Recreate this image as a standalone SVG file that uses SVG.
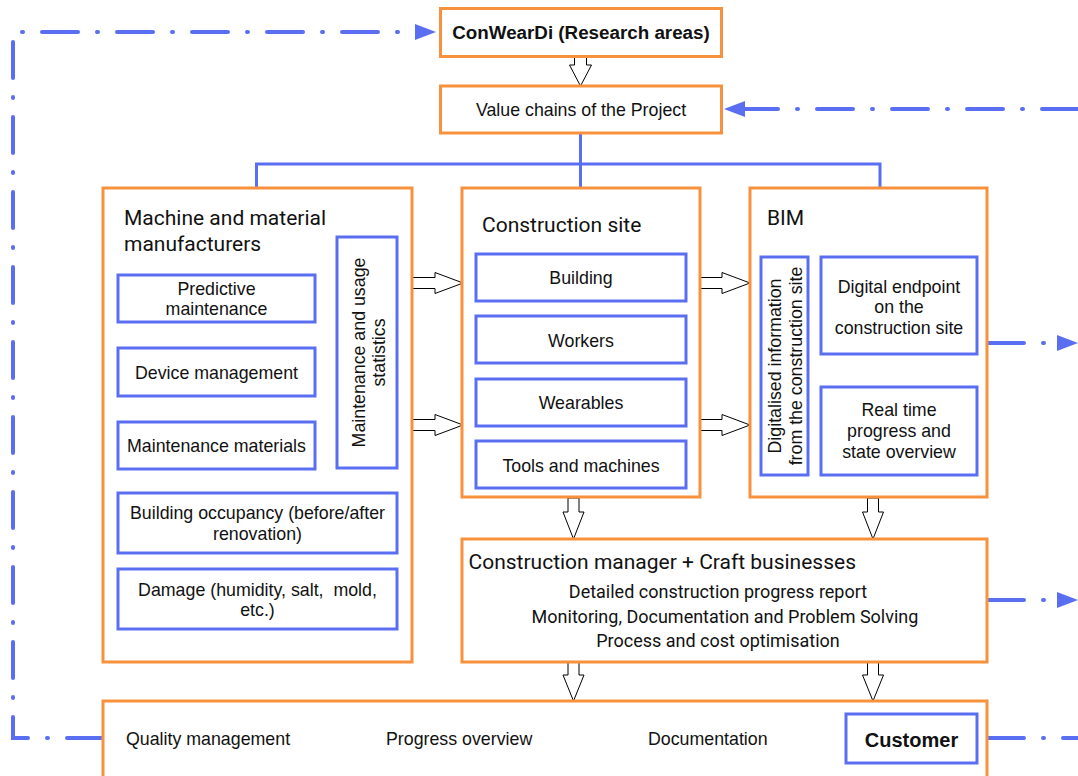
<svg xmlns="http://www.w3.org/2000/svg" width="1078" height="776" viewBox="0 0 1078 776">
<style>
.ob{fill:#fff;stroke:#F7913D;stroke-width:3}
.bb{fill:#fff;stroke:#5A6EF2;stroke-width:3}
.t{font-family:"Liberation Sans",Arial,sans-serif;font-size:17.8px;fill:#111;text-anchor:middle}
.tl{font-family:"Liberation Sans",Arial,sans-serif;font-size:17.8px;fill:#111}
.b{font-weight:bold}
.h{font-family:Roboto,"Liberation Sans",sans-serif;font-size:21px;fill:#111}
.r{font-family:Roboto,"Liberation Sans",sans-serif;font-size:18px;fill:#111;text-anchor:middle}
.tree{fill:none;stroke:#5A6EF2;stroke-width:3}
.dd{fill:none;stroke:#5A6EF2;stroke-width:4;stroke-linecap:round;stroke-dasharray:36 19 1 19}
.ha{fill:#fff;stroke:#000;stroke-width:1}
</style>
<defs>
<marker id="ah" markerUnits="userSpaceOnUse" markerWidth="22" markerHeight="18" viewBox="0 0 22 18" refX="0" refY="9" orient="auto">
<path d="M0,1 L21,9 L0,17 Z" fill="#5A6EF2"/>
</marker>
</defs>

<g id="connectors">
<path class="tree" d="M580.5,133 V188 M256.5,188 V164 H880 V188"/>
<path class="dd" d="M103,738 H13 V32 H415" marker-end="url(#ah)"/>
<path class="dd" d="M1078,109 H745" marker-end="url(#ah)"/>
<path class="dd" d="M988,343 H1057" marker-end="url(#ah)"/>
<path class="dd" d="M988,600 H1057" marker-end="url(#ah)"/>
<path class="dd" d="M988,738 H1078"/>
<path class="ha" d="M574.5,56.5 H586.5 V65 H591.5 L580.5,86 L569.5,65 H574.5 Z"/>
<path class="ha" d="M412,277.5 H435 V272.5 L463,283 L435,293.5 V288.5 H412 Z"/>
<path class="ha" d="M412,419.5 H435 V414.5 L463,425 L435,435.5 V430.5 H412 Z"/>
<path class="ha" d="M700,277.5 H722 V272.5 L750,283 L722,293.5 V288.5 H700 Z"/>
<path class="ha" d="M700,419.5 H722 V414.5 L750,425 L722,435.5 V430.5 H700 Z"/>
<path class="ha" d="M568,498 H579 V512 H584 L573.5,539 L563,512 H568 Z"/>
<path class="ha" d="M867.5,498 H878.5 V512 H883.5 L873,539 L862.5,512 H867.5 Z"/>
<path class="ha" d="M568,662 H579 V675 H584 L573.5,701 L563,675 H568 Z"/>
<path class="ha" d="M867.5,662 H878.5 V675 H883.5 L873,701 L862.5,675 H867.5 Z"/>
</g>

<g id="conweardi">
<rect class="ob" x="440.5" y="8.5" width="281" height="48"/>
<text class="t b" x="581" y="39" style="font-size:18.8px">ConWearDi (Research areas)</text>
</g>

<g id="value-chains">
<rect class="ob" x="440.5" y="86" width="281" height="47"/>
<text class="t" x="581" y="116">Value chains of the Project</text>
</g>

<g id="machine-manufacturers">
<rect class="ob" x="103" y="188" width="309" height="474"/>
<text class="h" x="124" y="225">Machine and material</text>
<text class="h" x="124" y="251">manufacturers</text>
</g>
<g id="predictive-maintenance">
<rect class="bb" x="118" y="275" width="197" height="47"/>
<text class="t" x="216.5" y="295">Predictive</text>
<text class="t" x="216.5" y="315">maintenance</text>
</g>
<g id="device-management">
<rect class="bb" x="118" y="348" width="197" height="48"/>
<text class="t" x="216.5" y="379">Device management</text>
</g>
<g id="maintenance-materials">
<rect class="bb" x="118" y="422" width="197" height="47"/>
<text class="t" x="216.5" y="452">Maintenance materials</text>
</g>
<g id="maintenance-usage-statistics">
<rect class="bb" x="337" y="237" width="60" height="231"/>
<text class="t" transform="translate(365,352.5) rotate(-90)" x="0" y="0">Maintenance and usage</text>
<text class="t" transform="translate(385,352.5) rotate(-90)" x="0" y="0">statistics</text>
</g>
<g id="building-occupancy">
<rect class="bb" x="118" y="493" width="279" height="60"/>
<text class="t" x="257.5" y="519">Building occupancy (before/after</text>
<text class="t" x="257.5" y="540">renovation)</text>
</g>
<g id="damage">
<rect class="bb" x="118" y="569" width="279" height="60"/>
<text class="t" x="257.5" y="596" xml:space="preserve">Damage (humidity, salt,  mold,</text>
<text class="t" x="257.5" y="616">etc.)</text>
</g>

<g id="construction-site">
<rect class="ob" x="462" y="188" width="238" height="309"/>
<text class="h" x="482" y="232">Construction site</text>
</g>
<g id="building">
<rect class="bb" x="476" y="254" width="210" height="47"/>
<text class="t" x="581" y="284">Building</text>
</g>
<g id="workers">
<rect class="bb" x="476" y="316" width="210" height="47"/>
<text class="t" x="581" y="347">Workers</text>
</g>
<g id="wearables">
<rect class="bb" x="476" y="379" width="210" height="47"/>
<text class="t" x="581" y="409">Wearables</text>
</g>
<g id="tools-machines">
<rect class="bb" x="476" y="441" width="210" height="47"/>
<text class="t" x="581" y="472">Tools and machines</text>
</g>

<g id="bim">
<rect class="ob" x="750" y="188" width="237" height="309"/>
<text class="h" x="767" y="225">BIM</text>
</g>
<g id="digitalised-information">
<rect class="bb" x="761" y="257" width="47" height="218"/>
<text class="t" transform="translate(781,366) rotate(-90)" x="0" y="0">Digitalised information</text>
<text class="t" transform="translate(802,366) rotate(-90)" x="0" y="0">from the construction site</text>
</g>
<g id="digital-endpoint">
<rect class="bb" x="821" y="257" width="156" height="97"/>
<text class="t" x="899" y="293">Digital endpoint</text>
<text class="t" x="899" y="313">on the</text>
<text class="t" x="899" y="334">construction site</text>
</g>
<g id="real-time">
<rect class="bb" x="821" y="387" width="156" height="88"/>
<text class="t" x="899" y="416">Real time</text>
<text class="t" x="899" y="437">progress and</text>
<text class="t" x="899" y="458">state overview</text>
</g>

<g id="construction-manager">
<rect class="ob" x="462" y="539" width="525" height="123"/>
<text class="h" x="468.5" y="569">Construction manager + Craft businesses</text>
<text class="r" x="718" y="598">Detailed construction progress report</text>
<text class="r" x="725" y="623">Monitoring, Documentation and Problem Solving</text>
<text class="r" x="718" y="647">Process and cost optimisation</text>
</g>

<g id="outcomes">
<rect class="ob" x="103" y="701" width="884" height="90"/>
<text class="tl" x="126" y="745">Quality management</text>
<text class="tl" x="386" y="745">Progress overview</text>
<text class="tl" x="648" y="745">Documentation</text>
</g>
<g id="customer">
<rect class="bb" x="846" y="714" width="131" height="49"/>
<text class="t b" x="911.5" y="747" style="font-size:20px">Customer</text>
</g>
</svg>
